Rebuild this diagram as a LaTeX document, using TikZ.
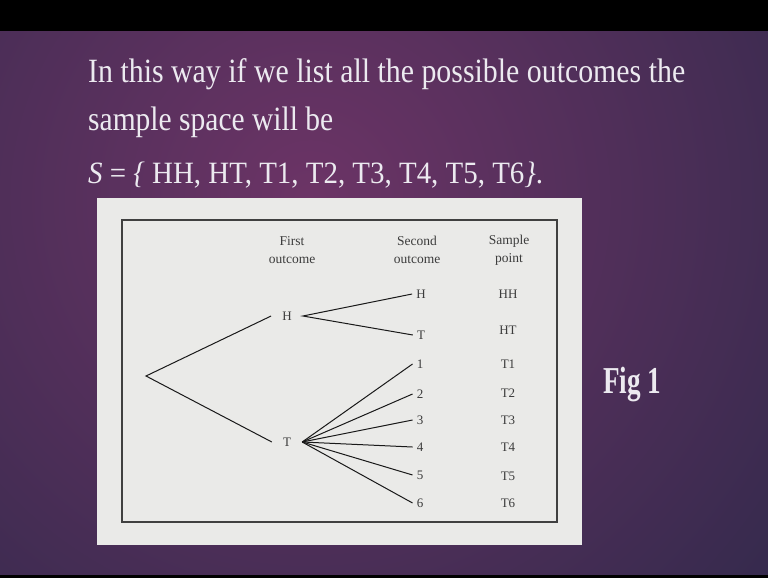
\documentclass[tikz,border=0pt]{standalone}
\usepackage{graphicx}
\usepackage{fontspec}
\setmainfont{Liberation Serif}
\definecolor{bgin}{RGB}{108,52,102}
\definecolor{bgout}{RGB}{42,40,72}
\definecolor{panel}{RGB}{234,234,232}
\definecolor{slidetext}{RGB}{236,234,240}
\definecolor{treetext}{RGB}{60,60,60}
\tikzset{
  slide/.style={text=slidetext, inner sep=0pt, anchor=base west},
  lbl/.style={font=\fontsize{13}{15}\selectfont, text=treetext, inner ysep=2pt},
  lvlone/.style={lbl, inner xsep=11pt},
  lvltwo/.style={lbl, inner xsep=4pt},
  samplept/.style={lbl, inner xsep=2pt},
  hdr/.style={font=\fontsize{13.5}{18}\selectfont, text=treetext, align=center, inner sep=0pt},
  branch/.style={draw=black!90, line width=1pt},
}
\begin{document}
\begin{tikzpicture}[x=1pt, y=-1pt]
\useasboundingbox (0,0) rectangle (768,578);
% background
\fill[black] (0,0) rectangle (768,578);
\begin{scope}
  \clip (0,32) rectangle (768,574);
  \fill[bgout] (0,32) rectangle (768,574);
  \shade[inner color=bgin, outer color=bgout] (310,200) circle (720pt);
\end{scope}
% slide text
\node[slide, font=\fontsize{34}{40}\selectfont] (l1) at (88,82)
  {\resizebox{597pt}{\height}{In this way if we list all the possible outcomes the}};
\node[slide, font=\fontsize{34}{40}\selectfont] (l2) at (88,130)
  {\resizebox{245pt}{\height}{sample space will be}};
\node[slide, font=\fontsize{31}{36}\selectfont] (l3) at (88,183)
  {\resizebox{455pt}{\height}{\textit{S} = \textit{\{} HH, HT, T1, T2, T3, T4, T5, T6\textit{\}}.}};
\node[slide, font=\bfseries\fontsize{38}{44}\selectfont] (fig) at (603,393)
  {\resizebox{58pt}{\height}{Fig 1}};
% panel
\fill[panel] (97,198) rectangle (582,545);
\draw[line width=1.3pt, draw=black!75] (122,220) rectangle (557,522);
% headers
\node[hdr] (h1) at (292,250) {First\\outcome};
\node[hdr] (h2) at (417,250) {Second\\outcome};
\node[hdr] (h3) at (509,250) {Sample\\point};
% tree
\coordinate (root) at (146,376);
\node[lvlone] (H) at (287,316) {H};
\node[lvlone] (T) at (287,442) {T};
\node[lvltwo] (HH2) at (421,294) {H};
\node[lvltwo] (HT2) at (421,335) {T};
\node[lvltwo] (n1) at (420,364) {1};
\node[lvltwo] (n2) at (420,394) {2};
\node[lvltwo] (n3) at (420,420) {3};
\node[lvltwo] (n4) at (420,447) {4};
\node[lvltwo] (n5) at (420,475) {5};
\node[lvltwo] (n6) at (420,503) {6};
\node[samplept] (sHH) at (508,294) {HH};
\node[samplept] (sHT) at (508,330) {HT};
\node[samplept] (sT1) at (508,364) {T1};
\node[samplept] (sT2) at (508,393) {T2};
\node[samplept] (sT3) at (508,420) {T3};
\node[samplept] (sT4) at (508,447) {T4};
\node[samplept] (sT5) at (508,476) {T5};
\node[samplept] (sT6) at (508,503) {T6};
\draw[branch] (H.west) -- (root) -- (T.west);
\draw[branch] (HH2.west) -- (H.east) -- (HT2.west);
\foreach \n in {n1,n2,n3,n4,n5,n6}
  \draw[branch] (T.east) -- (\n.west);
\end{tikzpicture}
\end{document}
